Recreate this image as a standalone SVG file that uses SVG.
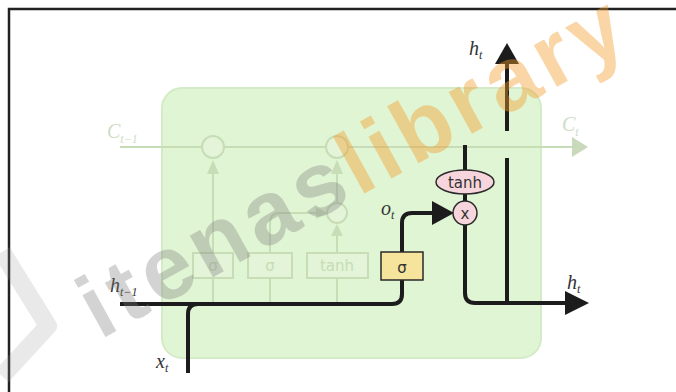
<svg xmlns="http://www.w3.org/2000/svg" width="676" height="392" viewBox="0 0 676 392">
<defs>
<style>
.ln{fill:none;stroke:#1c1c1c;stroke-width:4}
.ah{fill:#1c1c1c}
.fd{fill:none;stroke:#c6ddb6;stroke-width:2}
.fdf{fill:#c6ddb6}
.fdbox{fill:#e3f4d8;stroke:#c6ddb6;stroke-width:2}
.fdtx{font-family:"DejaVu Sans",sans-serif;font-size:15px;fill:#c6ddb6;text-anchor:middle}
.math{font-family:"Liberation Serif",serif;font-style:italic;font-size:20px;fill:#333}
.mfd{font-family:"Liberation Serif",serif;font-style:italic;font-size:20px;fill:#d0dcc6}
.sub{font-size:12px}
.op{fill:#f6d6dc;stroke:#2a2a2a;stroke-width:1.5}
.optx{font-family:"DejaVu Sans",sans-serif;font-size:15px;fill:#333;text-anchor:middle}
.wm{font-family:"Liberation Sans",sans-serif;font-weight:bold;font-size:90px;letter-spacing:6px}
</style>
</defs>
<rect width="676" height="392" fill="#fff"/>
<!-- frame -->
<path d="M676,9 H9 V392" fill="none" stroke="#222" stroke-width="2.5"/>

<g id="cell">
  <rect x="162" y="88" width="379" height="270" rx="20" fill="#e0f5d3" stroke="#d3ebc6" stroke-width="2"/>
</g>

<g id="hidden">
  <path class="fd" d="M120,147 H572" stroke-width="4" stroke="#c8d9bc"/>
  <polygon points="572,137 588,147 572,157" fill="#c8d9bc"/>
  <circle cx="213" cy="147" r="11" class="fdbox"/>
  <circle cx="337" cy="147" r="11" class="fdbox"/>
  <circle cx="337" cy="213" r="10" class="fdbox"/>
  <rect x="193" y="253" width="40" height="25" class="fdbox"/>
  <rect x="248" y="253" width="44" height="25" class="fdbox"/>
  <rect x="307" y="253" width="61" height="25" class="fdbox"/>
  <text x="213" y="271" class="fdtx">σ</text>
  <text x="270" y="271" class="fdtx">σ</text>
  <text x="337" y="271" class="fdtx">tanh</text>
  <path class="fd" d="M213,303 V278 M270,303 V278 M337,303 V278"/>
  <path class="fd" d="M213,253 V172"/>
  <polygon class="fdf" points="207,174 213,160 219,174"/>
  <path class="fd" d="M270,253 V223 Q270,213 280,213 H318"/>
  <polygon class="fdf" points="316,207 327,213 316,219"/>
  <path class="fd" d="M337,253 V235"/>
  <polygon class="fdf" points="331,236 337,224 343,236"/>
  <path class="fd" d="M337,203 V172"/>
  <polygon class="fdf" points="331,174 337,160 343,174"/>
  <text x="107" y="138" class="mfd">C<tspan class="sub" dy="5">t−1</tspan></text>
  <text x="562" y="131" class="mfd">C<tspan class="sub" dy="5">t</tspan></text>
</g>

<g id="connectors">
  <path class="ln" d="M120,304 H392 Q402,304 402,294 V280" stroke-width="5"/>
  <path class="ln" d="M188,373 V314 Q188,304 198,304"/>
  <path class="ln" d="M402,252 V223 Q402,213 412,213 H434"/>
  <polygon class="ah" points="432,201 454,213 432,225"/>
  <path class="ln" d="M465,145 V170 M465,194 V201"/>
  <path class="ln" d="M465,225 V293 Q465,303 475,303 H567"/>
  <polygon class="ah" points="565,291 589,303 565,315"/>
  <path class="ln" d="M507,303 V158 M507,131 V62"/>
  <polygon class="ah" points="495,64 507,43 519,64"/>
</g>

<g id="sigma">
  <rect x="381" y="252" width="42" height="28" fill="#f6e49c" stroke="#2a2a2a" stroke-width="1.5"/>
  <text x="402" y="273" class="optx" font-size="19">σ</text>
</g>
<g id="tanh">
  <ellipse cx="465" cy="182" rx="29" ry="12" class="op"/>
  <text x="465" y="188" class="optx">tanh</text>
</g>
<g id="mult">
  <circle cx="465" cy="213" r="12" class="op"/>
  <text x="465" y="219" class="optx">x</text>
</g>

<g id="labels">
  <text x="469" y="55" class="math">h<tspan class="sub" dy="4">t</tspan></text>
  <text x="567" y="289" class="math">h<tspan class="sub" dy="4">t</tspan></text>
  <text x="381" y="215" class="math">o<tspan class="sub" dy="4">t</tspan></text>
  <text x="110" y="292" class="math">h<tspan class="sub" dy="4">t−1</tspan></text>
  <text x="156" y="368" class="math">x<tspan class="sub" dy="4">t</tspan></text>
</g>

<g id="watermark">
  <path d="M2,252 L48,326 L2,376" fill="none" stroke="#9a9a9a" stroke-opacity="0.22" stroke-width="18" stroke-linejoin="round"/>
  <text class="wm" transform="translate(100,340) rotate(-29)"><tspan fill="#7a7a7a" fill-opacity="0.33">itenas</tspan><tspan fill="#f39a2a" fill-opacity="0.42">library</tspan></text>
</g>
</svg>
